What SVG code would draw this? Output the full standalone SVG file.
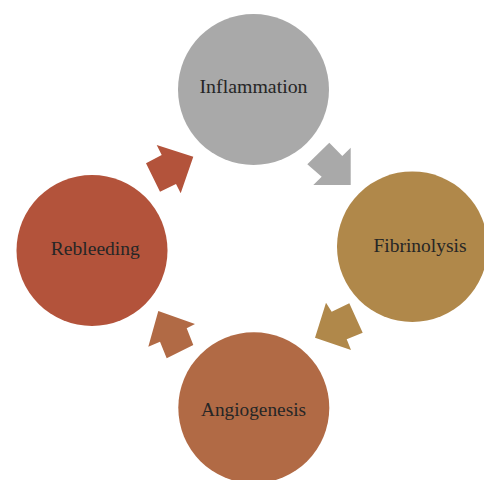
<svg xmlns="http://www.w3.org/2000/svg" width="484" height="480" viewBox="0 0 484 480">
<style>
.lbl{font-family:"Liberation Serif","Times New Roman",serif;font-size:19.5px;fill:#262626;text-anchor:middle}
</style>
<rect width="484" height="480" fill="#ffffff"/>
<g id="connectors">
<polygon fill="#a9a9a9" points="329.3,142.7 342.3,156 350.7,147.7 350.7,185 313.3,185 321.7,176.7 307.3,164.3"/>
<polygon fill="#b0884a" points="326,302.7 331.7,311.7 349.3,303.3 362.7,332.7 346.7,339.3 351,350 315,337.7"/>
<polygon fill="#b16a45" points="158.3,311 195,324 186.7,328.3 193.3,345 166.7,358.3 160,341.7 148.3,346.7"/>
<polygon fill="#b3533b" points="193.3,156.7 180.7,193.3 176,184 160,191.7 146,163.3 161.7,155 156.7,145"/>
</g>
<g id="inflammation">
<circle cx="253.5" cy="89.5" r="75.5" fill="#a9a9a9"/>
<text class="lbl" x="253.5" y="93" textLength="108" lengthAdjust="spacingAndGlyphs">Inflammation</text>
</g>
<g id="fibrinolysis">
<circle cx="412.3" cy="246.7" r="75.3" fill="#b0884a"/>
<text class="lbl" x="420" y="252.3" textLength="93" lengthAdjust="spacingAndGlyphs">Fibrinolysis</text>
</g>
<g id="angiogenesis">
<circle cx="253.8" cy="407.8" r="75.5" fill="#b16a45"/>
<text class="lbl" x="253.5" y="415.7" textLength="105" lengthAdjust="spacingAndGlyphs">Angiogenesis</text>
</g>
<g id="rebleeding">
<circle cx="92" cy="250.5" r="75.5" fill="#b3533b"/>
<text class="lbl" x="95.3" y="255" textLength="89" lengthAdjust="spacingAndGlyphs">Rebleeding</text>
</g>
</svg>
